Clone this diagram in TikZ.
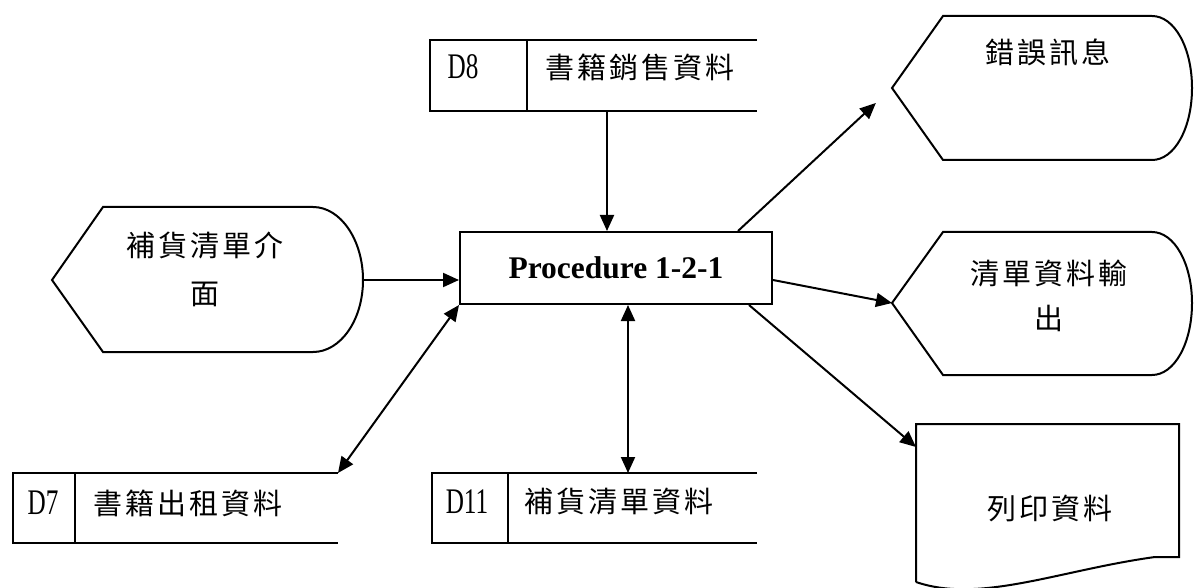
\documentclass[tikz,border=0pt]{standalone}
\usepackage{fontspec}
\usetikzlibrary{arrows.meta,calc}
\newfontfamily\cjk[LetterSpace=10]{Noto Sans CJK TC}
\newfontfamily\latinf[FakeStretch=0.7]{Liberation Serif}
\newfontfamily\timesf{Liberation Serif}
\begin{document}
\begin{tikzpicture}[x=1pt,y=-1pt,
  shp/.style={line width=2pt,line join=miter},
  conn/.style={line width=2pt,-{Triangle[length=16pt,width=14pt]}},
  biconn/.style={line width=2pt,{Triangle[length=16pt,width=14pt]}-{Triangle[length=16pt,width=14pt]}},
  cjkt/.style={font=\cjk\fontsize{29}{46}\selectfont,inner sep=0pt,align=center},
  lat/.style={font=\latinf\fontsize{36}{40}\selectfont,inner sep=0pt}]
\useasboundingbox (0,0) rectangle (1194,588);

% Procedure
\node[draw,line width=2pt,minimum width=312pt,minimum height=72pt,inner sep=0pt,
      font=\timesf\bfseries\fontsize{31.5}{36}\selectfont] (proc) at (616,268) {Procedure 1-2-1};

% D8 store
\draw[shp] (757,40) -- (430,40) -- (430,111) -- (757,111);
\draw[shp] (527,40) -- (527,111);
\node[lat] (d8id) at (463,67) {D8};
\node[cjkt] (d8t) at (640,67) {書籍銷售資料};
\coordinate (d8b) at (607,111);

% D7 store
\draw[shp] (338,473) -- (13,473) -- (13,543) -- (338,543);
\draw[shp] (75,473) -- (75,543);
\node[lat] (d7id) at (43,503) {D7};
\node[cjkt] (d7t) at (188,503) {書籍出租資料};
\coordinate (d7c) at (338,473);

% D11 store
\draw[shp] (757,473) -- (432,473) -- (432,543) -- (757,543);
\draw[shp] (508,473) -- (508,543);
\node[lat] (d11id) at (467,502) {D11};
\node[cjkt] (d11t) at (619,502) {補貨清單資料};
\coordinate (d11t0) at (628,473);

% Left display shape
\draw[shp] (52,280) -- (103,207) -- (313,207)
  .. controls (340.6,207) and (363,240) .. (363,280)
  .. controls (363,320) and (340.6,352) .. (313,352) -- (103,352) -- cycle;
\node[cjkt,font=\cjk\fontsize{29}{48}\selectfont] (lft) at (205,269) {補貨清單介\\面};
\coordinate (lpe) at (363,280);

% Error message shape
\draw[shp] (892,88) -- (943,16) -- (1152,16)
  .. controls (1174.6,16) and (1192,48) .. (1192,88)
  .. controls (1192,128) and (1174.6,160) .. (1152,160) -- (943,160) -- cycle;
\node[cjkt] (err) at (1048,52) {錯誤訊息};
\coordinate (errw) at (892,88);

% List output shape
\draw[shp] (892,303) -- (943,232) -- (1152,232)
  .. controls (1174.6,232) and (1192,264) .. (1192,303)
  .. controls (1192,343) and (1174.6,375) .. (1152,375) -- (943,375) -- cycle;
\node[cjkt,font=\cjk\fontsize{29}{45}\selectfont] (lst) at (1049,296) {清單資料輸\\出};
\coordinate (lstw) at (892,303);

% Print document shape
\draw[shp] (916,582) -- (916,424) -- (1179,424) -- (1179,557) -- (1155,557)
  .. controls (1060,570) and (980,604) .. (916,582);
\node[cjkt] (prt) at (1050,508) {列印資料};
\coordinate (prtw) at (916,447);

% Connectors
\draw[conn] (lpe) -- (lpe -| proc.west);
\draw[conn] (d8b) -- (d8b |- proc.north);
\draw[conn,shorten >=22pt] ($(proc.north east)+(-35,0)$) -- (errw);
\draw[conn] ($(proc.east)+(0,12)$) -- (lstw);
\draw[conn] ($(proc.south east)+(-24,0)$) -- (prtw);
\draw[biconn] (proc.south west) -- (d7c);
\draw[biconn] (d11t0 |- proc.south) -- (d11t0);
\end{tikzpicture}
\end{document}
